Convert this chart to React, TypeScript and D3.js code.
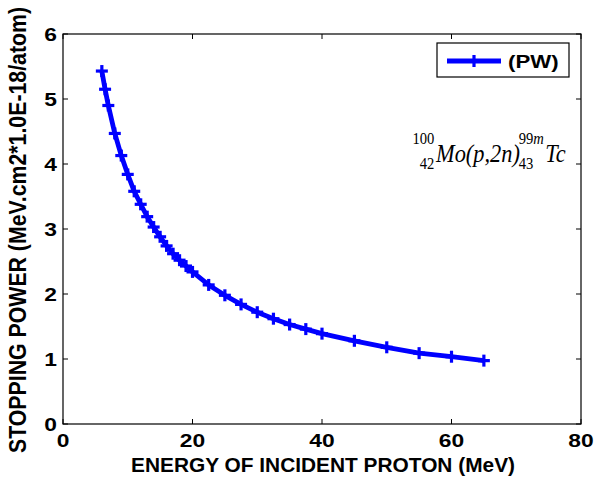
import * as d3 from "d3"

// proton energy (MeV) and stopping power
const energy = [6, 6.5, 7, 8, 9, 10, 11, 12, 13, 14, 15, 16, 17, 18, 19, 20, 22.5, 25, 27.5, 30, 32.5, 35, 37.5, 40, 45, 50, 55, 60, 65]
const stopping = [5.43, 5.15, 4.9, 4.47, 4.13, 3.84, 3.58, 3.38, 3.19, 3.03, 2.88, 2.74, 2.62, 2.52, 2.43, 2.34, 2.14, 1.98, 1.84, 1.72, 1.62, 1.53, 1.46, 1.39, 1.28, 1.18, 1.09, 1.035, 0.975]
const xTicks = [0, 20, 40, 60, 80]
const yTicks = [0, 1, 2, 3, 4, 5, 6]
const seriesName = "(PW)"

const W = 595
const H = 483
const sans = "'Liberation Sans', Arial, sans-serif"
const serif = "'Liberation Serif', 'Times New Roman', serif"
const blue = "#0000ff"

function Plus({ x, y, r = 6, w = 3.2 }: { x: number; y: number; r?: number; w?: number }) {
  return (
    <g stroke={blue} strokeWidth={w}>
      <line x1={x - r} x2={x + r} y1={y} y2={y} />
      <line x1={x} x2={x} y1={y - r} y2={y + r} />
    </g>
  )
}

function SText({ x, y, s = 1.2, size, anchor = "start", family = sans, weight = "bold", style = "normal", children }: any) {
  return (
    <text
      transform={`translate(${x},${y}) scale(${s},1)`}
      fontFamily={family}
      fontSize={size}
      fontWeight={weight}
      fontStyle={style}
      textAnchor={anchor}
      fill="#000"
    >
      {children}
    </text>
  )
}

export default function App() {
  const left = 63
  const right = 581
  const top = 34
  const bottom = 424

  const x = d3.scaleLinear().domain([0, 80]).range([left, right])
  const y = d3.scaleLinear().domain([0, 6]).range([bottom, top])

  const line = d3
    .line<number>()
    .x((_, i) => x(energy[i]))
    .y((d) => y(d))

  const tl = 5

  // reaction label, squeezed a little horizontally
  const fs = 0.86
  const fx = 412

  return (
    <svg width={W} height={H} style={{ position: "absolute", left: 0, top: 0, background: "#fff" }}>
      <rect x={0} y={0} width={W} height={H} fill="#fff" />

      {/* ticks, inside on all four sides */}
      <g stroke="#000" strokeWidth={1}>
        {xTicks.map((t) => (
          <g key={"x" + t}>
            <line x1={x(t)} x2={x(t)} y1={bottom} y2={bottom - tl} />
            <line x1={x(t)} x2={x(t)} y1={top} y2={top + tl} />
          </g>
        ))}
        {yTicks.map((t) => (
          <g key={"y" + t}>
            <line x1={left} x2={left + tl} y1={y(t)} y2={y(t)} />
            <line x1={right} x2={right - tl} y1={y(t)} y2={y(t)} />
          </g>
        ))}
      </g>
      <rect x={left} y={top} width={right - left} height={bottom - top} fill="none" stroke="#000" strokeWidth={1.2} />

      {/* tick labels */}
      {xTicks.map((t) => (
        <SText key={"xl" + t} x={x(t)} y={447} size={19} anchor="middle">
          {t}
        </SText>
      ))}
      {yTicks.map((t) => (
        <SText key={"yl" + t} x={57} y={y(t) + 7} size={19} anchor="end">
          {t}
        </SText>
      ))}

      {/* axis titles */}
      <SText x={323} y={472} size={19.5} s={1.07} anchor="middle">
        ENERGY OF INCIDENT PROTON (MeV)
      </SText>
      <text
        transform={`translate(26,230) scale(1.08,1) rotate(-90)`}
        fontFamily={sans}
        fontSize={21.3}
        fontWeight="bold"
        textAnchor="middle"
        fill="#000"
      >
        STOPPING POWER (MeV.cm2*1.0E-18/atom)
      </text>

      {/* data */}
      <path d={line(stopping) || ""} fill="none" stroke={blue} strokeWidth={4.8} strokeLinejoin="round" />
      {stopping.map((v, i) => (
        <Plus key={i} x={x(energy[i])} y={y(v)} />
      ))}

      {/* legend */}
      <rect x={437} y={43} width={132} height={34} fill="#fff" stroke="#000" strokeWidth={1.2} />
      <line x1={447} x2={501} y1={61} y2={61} stroke={blue} strokeWidth={4.8} />
      <Plus x={474} y={61} />
      <SText x={508} y={68} size={18.5}>
        {seriesName}
      </SText>

      {/* reaction label */}
      <g transform={`translate(${fx},0) scale(${fs},1)`}>
        <text fontFamily={serif} fontSize={17} x={26} y={144} textAnchor="end">100</text>
        <text fontFamily={serif} fontSize={17} x={26} y={169} textAnchor="end">42</text>
        <text fontFamily={serif} fontSize={26} fontStyle="italic" x={28} y={162}>Mo(p,2n)</text>
        <text fontFamily={serif} fontSize={17} x={124} y={144}>
          99<tspan fontStyle="italic">m</tspan>
        </text>
        <text fontFamily={serif} fontSize={17} x={124} y={169}>43</text>
        <text fontFamily={serif} fontSize={26} fontStyle="italic" x={155} y={162}>Tc</text>
      </g>
    </svg>
  )
}
